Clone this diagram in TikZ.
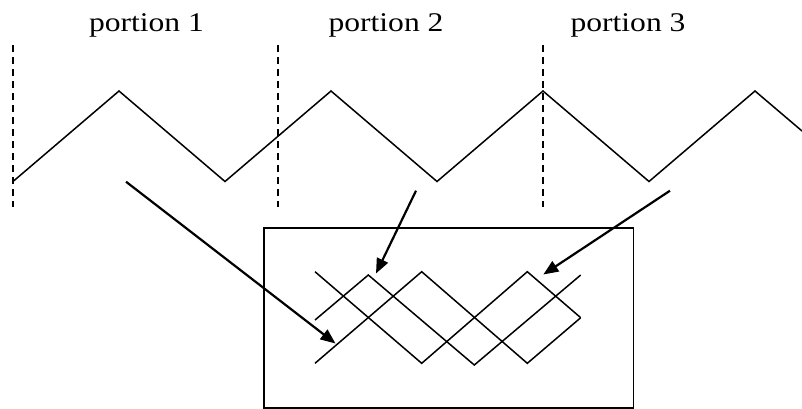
\documentclass[tikz,border=0pt]{standalone}
\usepackage{fontspec}
\setmainfont{Liberation Serif}
\usetikzlibrary{arrows.meta}
\begin{document}
\begin{tikzpicture}[x=1pt,y=-1pt,
  wave/.style={line width=1.5pt,line join=miter},
  divider/.style={line width=1.5pt,dash pattern=on 7pt off 5pt},
  pointer/.style={line width=2.2pt,-{Triangle[length=15pt,width=12pt]}},
  caption/.style={anchor=base,inner sep=0pt,xscale=1.17,font=\fontsize{27}{32}\selectfont},
  frame/.style={line width=1.5pt}]
\useasboundingbox (0,0) rectangle (802,408);

% portion dividers
\draw[divider] (13,45) -- (13,207);
\draw[divider] (278,45) -- (278,207);
\draw[divider] (543,45) -- (543,207);

% portion labels
\node[caption] (p1) at (146.5,31.7) {portion 1};
\node[caption] (p2) at (386,31.7) {portion 2};
\node[caption] (p3) at (628,31.7) {portion 3};

% the triangular wave
\draw[wave] (13,181.5) -- (119,91) -- (225,181.5) -- (331,91) -- (437,181.5)
  -- (543,91) -- (649,181.5) -- (755,91) -- (802,131);

% box holding the overlapped portions
\node[frame,draw,minimum width=369.5pt,minimum height=180pt,inner sep=0pt,anchor=north west] (box) at (263.3,227.3) {};

% portion 1 copy
\draw[wave] (315,363.3) -- (421.7,271.7) -- (527.3,363.3) -- (580.7,317.7);
% portion 2 copy
\draw[wave] (315,320) -- (368.3,275) -- (474.3,365) -- (580.7,275);
% portion 3 copy
\draw[wave] (315,271.7) -- (421.7,363.3) -- (527.3,271.7) -- (580.7,317.7);

% pointers from each portion to its copy
\coordinate (s1) at (126,181.7);
\coordinate (t1) at (335.5,343.5);
\coordinate (s2) at (416,190.7);
\coordinate (t2) at (376,273.5);
\coordinate (s3) at (670,190.7);
\coordinate (t3) at (543.3,274.5);
\draw[pointer] (s1) -- (t1);
\draw[pointer] (s2) -- (t2);
\draw[pointer] (s3) -- (t3);
\end{tikzpicture}
\end{document}
